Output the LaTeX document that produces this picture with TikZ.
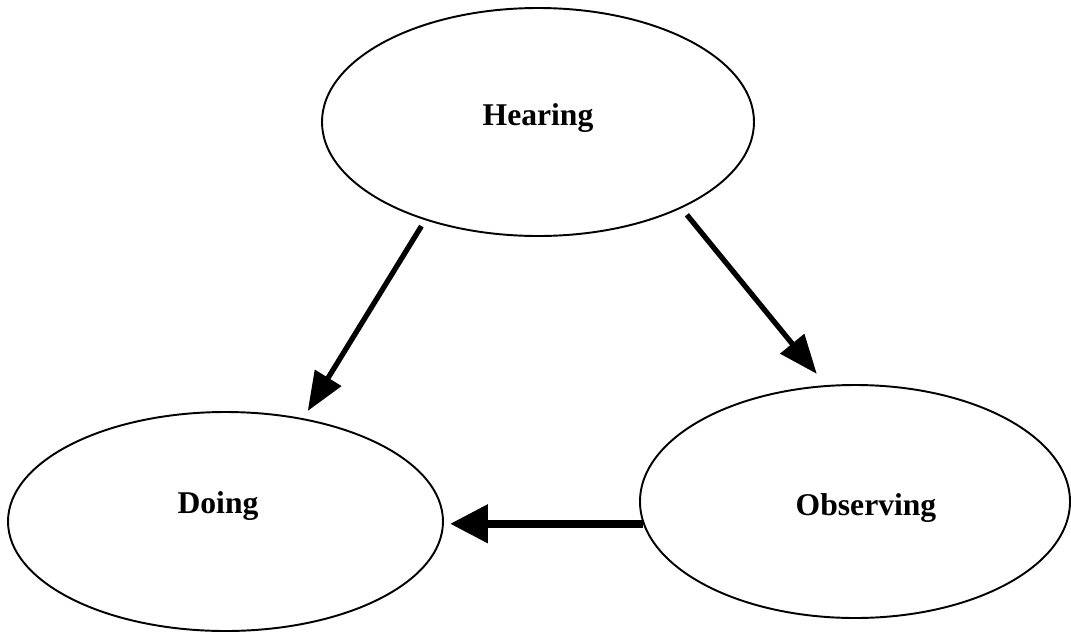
\documentclass[tikz,border=0pt]{standalone}
\usepackage{fontspec}
\setmainfont{Liberation Serif}
\usetikzlibrary{shapes.geometric,arrows.meta}

\begin{document}
\begin{tikzpicture}[
    stage/.style={draw, ellipse, line width=1.1pt, inner sep=0pt},
    stagelabel/.style={anchor=base, font=\fontsize{18}{21}\selectfont\bfseries},
    flow/.style={-{Triangle[length=0.78cm,width=0.6cm]}, line width=3pt}
]
    \useasboundingbox (0,0) rectangle (21.42,-12.64);

    % Ellipses
    \node[stage, minimum width=8.64cm, minimum height=4.56cm] (hearing) at (10.76,-2.44) {};
    \node[stage, minimum width=8.7cm, minimum height=4.38cm] (doing) at (4.51,-10.43) {};
    \node[stage, minimum width=8.6cm, minimum height=4.66cm] (observing) at (17.1,-10.03) {};

    % Labels
    \node[stagelabel] (hearinglbl) at (10.76,-2.5) {Hearing};
    \node[stagelabel] (doinglbl) at (4.36,-10.26) {Doing};
    \node[stagelabel] (observinglbl) at (17.32,-10.3) {Observing};

    % Arrows
    \draw[flow, shorten <=0.14cm, shorten >=0.17cm] (hearing.221) -- (doing.53);
    \draw[flow, shorten <=0.17cm, shorten >=0.29cm] (hearing.329) -- (observing.104);
    \draw[flow, line width=4.5pt, -{Triangle[length=0.76cm,width=0.74cm]}, shorten >=0.12cm]
        (observing.186) -- (observing.186 -| doing.east);
\end{tikzpicture}
\end{document}
